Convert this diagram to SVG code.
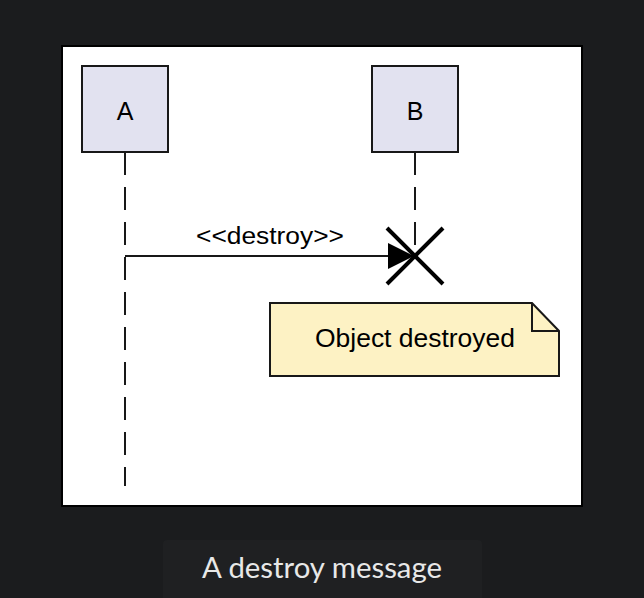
<svg xmlns="http://www.w3.org/2000/svg" width="644" height="598" viewBox="0 0 644 598">
<style>
.lbl{font-family:"Liberation Sans",Arial,sans-serif;fill:#000;}
.part{fill:#e2e2f0;stroke:#181818;stroke-width:2;}
.life{stroke:#181818;stroke-width:2;stroke-dasharray:23 12;fill:none;}
.msg{stroke:#181818;stroke-width:2;fill:none;}
</style>
<defs>
<marker id="arrow" markerWidth="26" markerHeight="26" refX="26" refY="13" orient="auto" markerUnits="userSpaceOnUse">
<path d="M0,0 L26,13 L0,26 Z" fill="#000"/>
</marker>
</defs>
<rect x="0" y="0" width="644" height="598" fill="#1b1c1e"/>
<rect x="62" y="46" width="520" height="460" fill="#fff" stroke="#000" stroke-width="2"/>
<g id="connectors">
<line class="life" x1="125" y1="152" x2="125" y2="486"/>
<line class="life" x1="415" y1="152" x2="415" y2="256"/>
<path class="msg" d="M125,256 H414" marker-end="url(#arrow)"/>
<text class="lbl" x="270" y="244" font-size="23.5" text-anchor="middle" textLength="148" lengthAdjust="spacingAndGlyphs">&lt;&lt;destroy&gt;&gt;</text>
</g>
<g id="A">
<rect class="part" x="82" y="66" width="86" height="86"/>
<text class="lbl" x="125" y="120" font-size="25" text-anchor="middle">A</text>
</g>
<g id="B">
<rect class="part" x="372" y="66" width="86" height="86"/>
<text class="lbl" x="415" y="120" font-size="25" text-anchor="middle">B</text>
</g>
<g id="destroy">
<line x1="387" y1="228" x2="443" y2="284" stroke="#000" stroke-width="4"/>
<line x1="443" y1="228" x2="387" y2="284" stroke="#000" stroke-width="4"/>
</g>
<g id="note">
<path d="M270,303 H532 L559,331 V376 H270 Z" fill="#fdf2c4" stroke="#181818" stroke-width="2"/>
<path d="M532,303 V331 H559" fill="none" stroke="#181818" stroke-width="2"/>
<text class="lbl" x="415" y="347" font-size="26" text-anchor="middle" textLength="200" lengthAdjust="spacingAndGlyphs">Object destroyed</text>
</g>
<g id="caption">
<rect x="163" y="540" width="319" height="70" rx="4" fill="#1f2022"/>
<text x="322" y="578" font-family="Lato,'Open Sans',sans-serif" font-size="28" fill="#e8e8e8" text-anchor="middle" textLength="240" lengthAdjust="spacingAndGlyphs">A destroy message</text>
</g>
</svg>
